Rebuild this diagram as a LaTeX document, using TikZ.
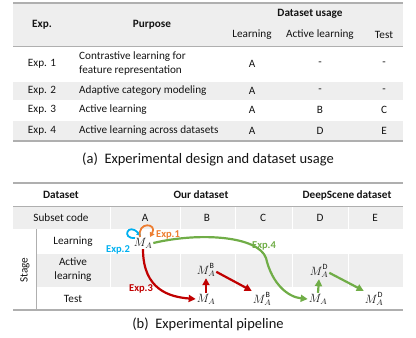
\documentclass[tikz,border=0pt]{standalone}
\usepackage{fontspec}
\setmainfont{Carlito}
\usetikzlibrary{arrows.meta,calc}
\definecolor{cred}{RGB}{192,0,0}
\definecolor{cgreen}{RGB}{112,173,71}
\definecolor{corange}{RGB}{237,125,49}
\definecolor{cblue}{RGB}{0,176,240}
\definecolor{band}{RGB}{238,238,238}
\definecolor{rulec}{RGB}{175,175,175}
\definecolor{txt}{RGB}{20,20,20}
\newcommand{\supup}[1]{\raisebox{1.5pt}{$\scriptstyle\mathrm{#1}$}}
\begin{document}
\begin{tikzpicture}[x=1pt,y=-1pt,
  every node/.style={text=txt, inner sep=1pt},
  tx/.style={font=\fontsize{11.2}{14}\selectfont},
  hd/.style={font=\fontsize{11.2}{14}\selectfont\bfseries},
  captxt/.style={font=\fontsize{14.5}{17}\selectfont},
  mn/.style={font=\fontsize{12}{14}\selectfont},
  lab/.style={font=\fontsize{10.5}{12}\selectfont\bfseries},
  rulel/.style={draw=rulec, line width=1.3pt},
  thinrule/.style={draw=rulec, line width=0.8pt},
  gridl/.style={draw=white, line width=0.8pt},
  bigarrow/.style={line width=2.2pt, -{Triangle[length=7pt,width=7pt]}},
  loopa/.style={line width=1.8pt, -{Triangle[length=4.5pt,width=5pt]}},
]
\useasboundingbox (0,0) rectangle (416,338);

% ---------- table (a) ----------
\fill[band] (13,3) rectangle (403,46);
\fill[band] (13,82) rectangle (403,100);
\fill[band] (13,121) rectangle (403,141);
\draw[rulel] (13,3) -- (403,3);
\draw[thinrule] (13,46) -- (403,46);
\draw[rulel] (13,141) -- (403,141);

\node[hd] (hexp) at (42,25) {Exp.};
\node[hd] (hpur) at (152,25) {Purpose};
\node[hd] (husage) at (310,14) {Dataset usage};
\node[tx] (hlearn) at (252,35) {Learning};
\node[tx] (hact) at (320,35) {Active learning};
\node[tx] (htest) at (384,35) {Test};

\node[tx] (e1) at (42,64) {Exp. 1};
\node[tx, anchor=west, align=left] (p1) at (78,64) {Contrastive learning for\\feature representation};
\node[tx] (l1) at (252,64) {A};
\node[tx] (a1) at (320,64) {-};
\node[tx] (t1) at (384,64) {-};

\node[tx] (e2) at (42,91) {Exp. 2};
\node[tx, anchor=west] (p2) at (78,91) {Adaptive category modeling};
\node[tx] (l2) at (252,91) {A};
\node[tx] (a2) at (320,91) {-};
\node[tx] (t2) at (384,91) {-};

\node[tx] (e3) at (42,110) {Exp. 3};
\node[tx, anchor=west] (p3) at (78,110) {Active learning};
\node[tx] (l3) at (252,110) {A};
\node[tx] (a3) at (320,110) {B};
\node[tx] (t3) at (384,110) {C};

\node[tx] (e4) at (42,131) {Exp. 4};
\node[tx, anchor=west] (p4) at (78,131) {Active learning across datasets};
\node[tx] (l4) at (252,131) {A};
\node[tx] (a4) at (320,131) {D};
\node[tx] (t4) at (384,131) {E};

\node[captxt] (capa) at (208,159) {(a)\ \ Experimental design and dataset usage};

% ---------- table (b) ----------
\fill[band] (13,206) rectangle (403,229);
\fill[band] (36,254) rectangle (403,287);
\foreach \x in {110,180,235,292,348}{
  \draw[gridl] (\x,206) -- (\x,229);
  \draw[gridl] (\x,254) -- (\x,287);
}
\draw[rulel] (13,183) -- (403,183);
\draw[thinrule] (13,206) -- (403,206);
\draw[thinrule] (36,229) -- (36,310);
\draw[rulel] (13,310) -- (403,310);

\node[hd] (hds) at (61,195) {Dataset};
\node[hd] (hour) at (201,195) {Our dataset};
\node[hd] (hdeep) at (347,195) {DeepScene dataset};

\node[tx] (sc) at (61,218) {Subset code};
\node[tx] (sA) at (145,218) {A};
\node[tx] (sB) at (207,218) {B};
\node[tx] (sC) at (263,218) {C};
\node[tx] (sD) at (320,218) {D};
\node[tx] (sE) at (375,218) {E};

\node[tx, rotate=90] (stage) at (25,270) {Stage};
\node[tx] (rl) at (73,242) {Learning};
\node[tx, align=center] (ra) at (73,270) {Active\\learning};
\node[tx] (rt) at (73,299) {Test};

\node[captxt] (capb) at (208,324) {(b)\ \ Experimental pipeline};

% model nodes
\node[mn] (ma) at (143,243) {$M_A$};
\node[mn] (mab1) at (206,270) {$M_A^{\supup{B}}$};
\node[mn] (mat1) at (206,299) {$M_A$};
\node[mn] (mab2) at (262,299) {$M_A^{\supup{B}}$};
\node[mn] (mad1) at (319,271) {$M_A^{\supup{D}}$};
\node[mn] (mat2) at (318,299) {$M_A$};
\node[mn] (mad2) at (374,299) {$M_A^{\supup{D}}$};

% self loops
\draw[loopa, cblue] ($(ma)+(-8,-5)$) .. controls (121,239) and (128,222) .. ($(ma)+(-2,-7)$);
\draw[loopa, corange] ($(ma)+(-3,-6)$) .. controls (137,221) and (158,223) .. ($(ma)+(7,-6)$);
\node[lab, text=corange] (x1) at (168,235) {Exp.1};
\node[lab, text=cblue] (x2) at (118,250) {Exp.2};

% Exp.3 (red)
\draw[bigarrow, cred] (ma.south) .. controls (143,290) and (170,297) .. (mat1.west);
\node[lab, text=cred] (x3) at (141,289) {Exp.3};
\draw[bigarrow, cred] (mat1.north) -- (mab1.south);
\draw[bigarrow, cred] (mab1.-10) -- (mab2.north west);

% Exp.4 (green)
\coordinate (g4) at (266,258);
\draw[bigarrow, cgreen] (ma.east) .. controls (200,232) and (258,236) .. (g4) .. controls (272,284) and (288,297) .. (mat2.west);
\node[lab, text=cgreen] (x4) at (264,246) {Exp.4};
\draw[bigarrow, cgreen] (mat2.north) -- (mad1.south);
\draw[bigarrow, cgreen] (mad1.-10) -- (mad2.north west);
\end{tikzpicture}
\end{document}
